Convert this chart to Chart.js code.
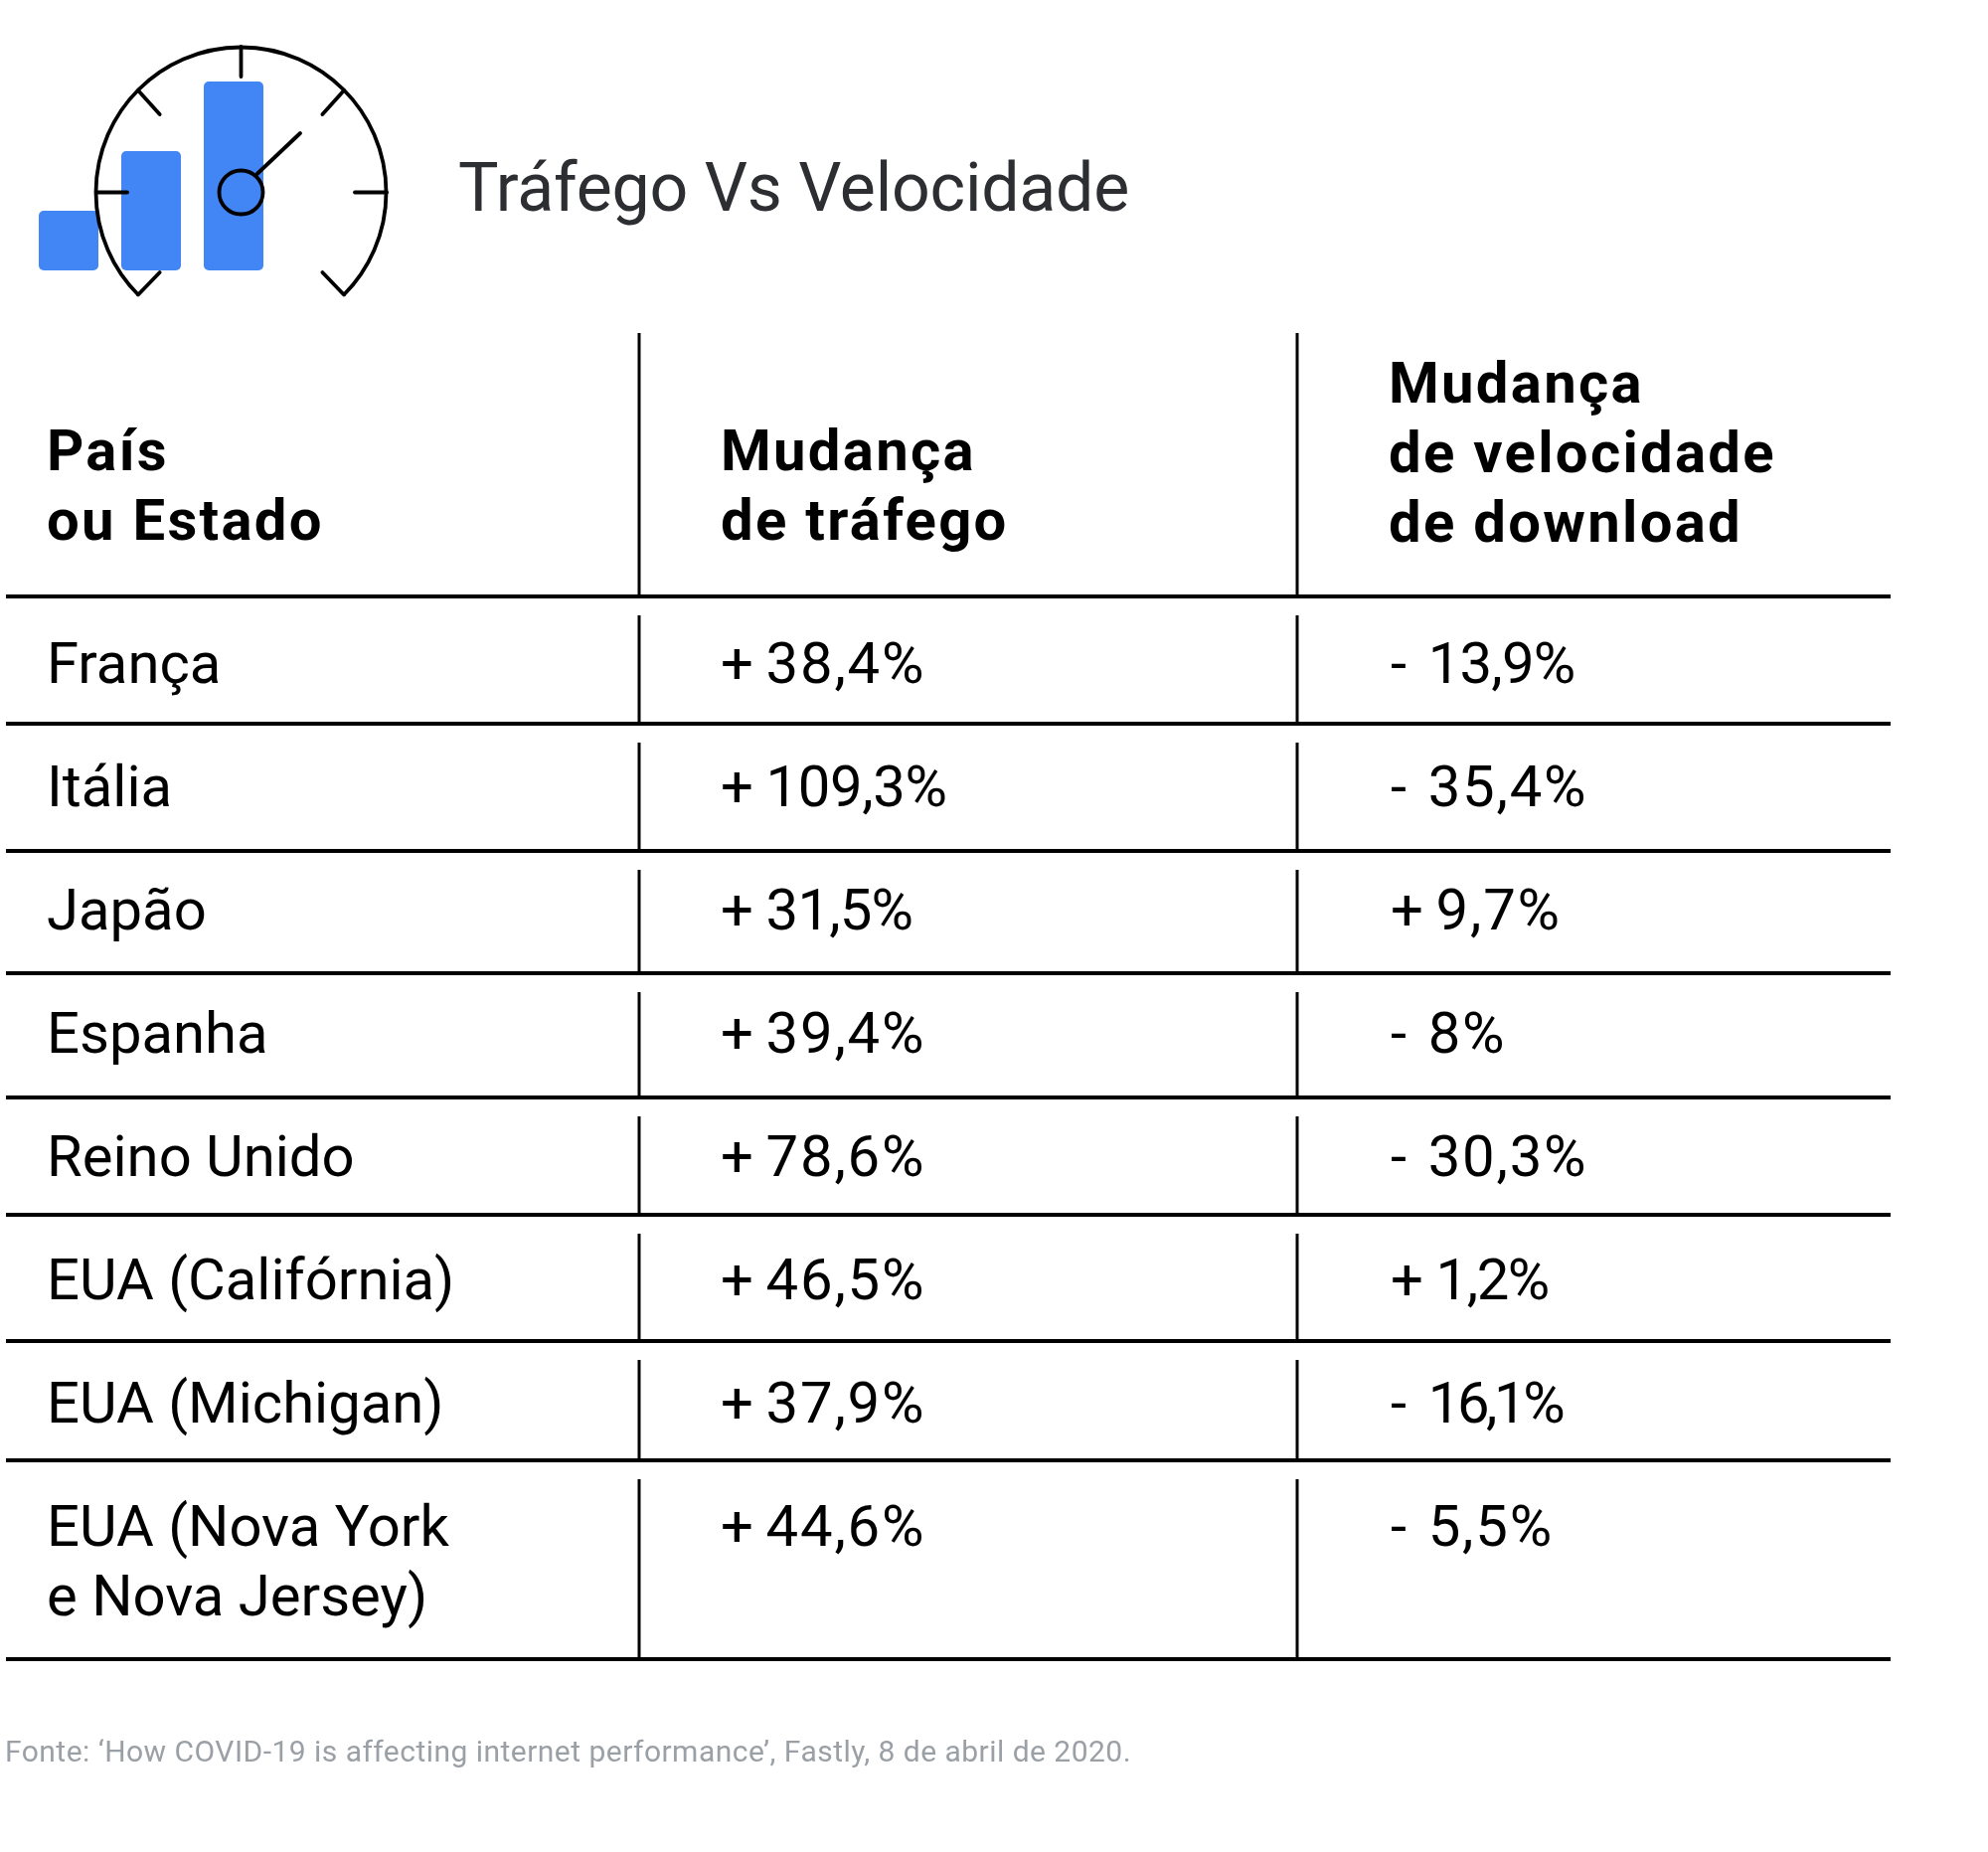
<!DOCTYPE html>
<html lang="pt">
<head>
<meta charset="utf-8">
<title>Tráfego Vs Velocidade</title>
<script src="https://cdn.jsdelivr.net/npm/chart.js@4"></script>
<style>
  html, body { margin: 0; background: #fff; }
  canvas { display: block; }
</style>
</head>
<body>
<canvas id="grafico" width="2000" height="1863"></canvas>
<script>
// dados
const titulo = 'Tráfego Vs Velocidade';
const cabecalhos = [
    ['País', 'ou Estado'],
    ['Mudança', 'de tráfego'],
    ['Mudança', 'de velocidade', 'de download'],
];
const paises = [
    ['França'], ['Itália'], ['Japão'], ['Espanha'], ['Reino Unido'],
    ['EUA (Califórnia)'], ['EUA (Michigan)'], ['EUA (Nova York', 'e Nova Jersey)'],
];
const trafego = [38.4, 109.3, 31.5, 39.4, 78.6, 46.5, 37.9, 44.6];
const velocidade = [-13.9, -35.4, 9.7, -8, -30.3, 1.2, -16.1, -5.5];
const fonte = 'Fonte: ‘How COVID-19 is affecting internet performance’, Fastly, 8 de abril de 2020.';

// barrinhas do icone
const iconeLabels = ['a', 'b', 'c'];
const iconeValores = [60, 120, 190];

// layout da tabela
const colX = [47, 725, 1399];
const divisorias = [643, 1305];
const linhaIni = 6, linhaFim = 1902;
const linhasY = [600, 728, 856, 979, 1104, 1222, 1349, 1469, 1669];
const baseLinhas = [687, 811, 935, 1059, 1183, 1307, 1431, 1555];
const FAMILIA = 'Roboto, sans-serif';

function fmt(v) {
    return (v > 0 ? '+ ' : '- ') + String(Math.abs(v)).replace('.', ',') + '%';
}

function texto(ctx, s, x, y, font, cor, esp, espPalavra) {
    ctx.font = font;
    ctx.fillStyle = cor;
    ctx.letterSpacing = (esp || 0) + 'px';
    ctx.wordSpacing = (espPalavra || 0) + 'px';
    ctx.textAlign = 'left';
    ctx.textBaseline = 'alphabetic';
    ctx.fillText(s, x, y);
}

// os numeros do original sao proporcionais: o "1" e mais estreito que os outros
function textoValor(ctx, v, x, y, font) {
    const s = String(Math.abs(v)).replace('.', ',') + '%';
    const uns = s.split('1').length - 1;
    const esp = (1.8 * s.length - 13 * uns) / s.length;
    // o numero comeca sempre no mesmo ponto depois do sinal
    const palavra = (v > 0 ? -1.7 : 7.3) - 2 * esp;
    texto(ctx, fmt(v), x, y, font, '#000', esp, palavra);
}

function traco(ctx, x1, y1, x2, y2, larg, cap) {
    ctx.beginPath();
    ctx.moveTo(x1, y1);
    ctx.lineTo(x2, y2);
    ctx.lineWidth = larg;
    ctx.lineCap = cap || 'butt';
    ctx.stroke();
}

// velocimetro por cima das barras
function desenhaGauge(ctx) {
    const cx = 242.5, cy = 193.5, r = 146;
    const larg = 3.8;
    ctx.strokeStyle = '#000';
    ctx.lineWidth = larg;
    ctx.beginPath();
    ctx.arc(cx, cy, r, Math.PI * 0.75, Math.PI * 2.25);
    ctx.stroke();
    ctx.beginPath();
    ctx.arc(cx, cy, 22, 0, Math.PI * 2);
    ctx.stroke();
    traco(ctx, cx, 47, cx, 77, larg, 'round');
    traco(ctx, 97, cy, 128, cy, larg, 'round');
    traco(ctx, 357, cy, 389, cy, larg, 'round');
    traco(ctx, 139, 91, 160.7, 115, larg, 'round');
    traco(ctx, 346, 91, 324.4, 115, larg, 'round');
    traco(ctx, 139, 296.5, 160.7, 274, larg, 'round');
    traco(ctx, 346, 296.5, 324.4, 274, larg, 'round');
    traco(ctx, 258.6, 175, 302, 134, larg, 'round');
}

function desenhaTabela(ctx) {
    ctx.strokeStyle = '#000';
    linhasY.forEach(y => traco(ctx, linhaIni, y, linhaFim, y, 4));
    divisorias.forEach(x => {
        traco(ctx, x, 335, x, linhasY[0], 3);
        for (let i = 0; i < paises.length; i++) {
            traco(ctx, x, linhasY[i] + 19, x, linhasY[i + 1], 3);
        }
    });

    const fonteCab = `700 58px ${FAMILIA}`;
    cabecalhos.forEach((linhas, c) => {
        const base = linhas.length === 3 ? 405 : 473;
        linhas.forEach((s, i) => texto(ctx, s, colX[c] + (c === 2 ? -2 : 0), base + i * 70, fonteCab, '#000', 2.3));
    });

    const fonteLinha = `400 58px ${FAMILIA}`;
    paises.forEach((linhas, i) => {
        linhas.forEach((s, j) => texto(ctx, s, colX[0], baseLinhas[i] + j * 70, fonteLinha, '#000'));
        textoValor(ctx, trafego[i], colX[1], baseLinhas[i], fonteLinha);
        textoValor(ctx, velocidade[i], colX[2], baseLinhas[i], fonteLinha);
    });
}

const pluginPagina = {
    id: 'pagina',
    afterDraw(chart) {
        const ctx = chart.ctx;
        ctx.save();
        desenhaGauge(ctx);
        texto(ctx, titulo, 461, 212, `400 68px ${FAMILIA}`, '#2d2e32', -0.23);
        desenhaTabela(ctx);
        texto(ctx, fonte, 5, 1772, `400 30px ${FAMILIA}`, '#9aa0a6', 0.47);
        ctx.restore();
    },
};

new Chart(document.getElementById('grafico'), {
    type: 'bar',
    data: {
        labels: iconeLabels,
        datasets: [{
            data: iconeValores,
            backgroundColor: '#4285f4',
            borderRadius: 5,
            borderSkipped: false,
            barPercentage: 60 / 83,
            categoryPercentage: 1,
        }],
    },
    options: {
        responsive: false,
        animation: false,
        devicePixelRatio: 1,
        // a area do grafico fica so onde estao as barras do icone
        layout: { padding: { left: 27.5, top: 72, right: 1723.5, bottom: 1591 } },
        plugins: { legend: { display: false }, tooltip: { enabled: false }, title: { display: false } },
        scales: {
            x: { display: false },
            y: { display: false, min: 0, max: 200 },
        },
    },
    plugins: [pluginPagina],
});
</script>
</body>
</html>
